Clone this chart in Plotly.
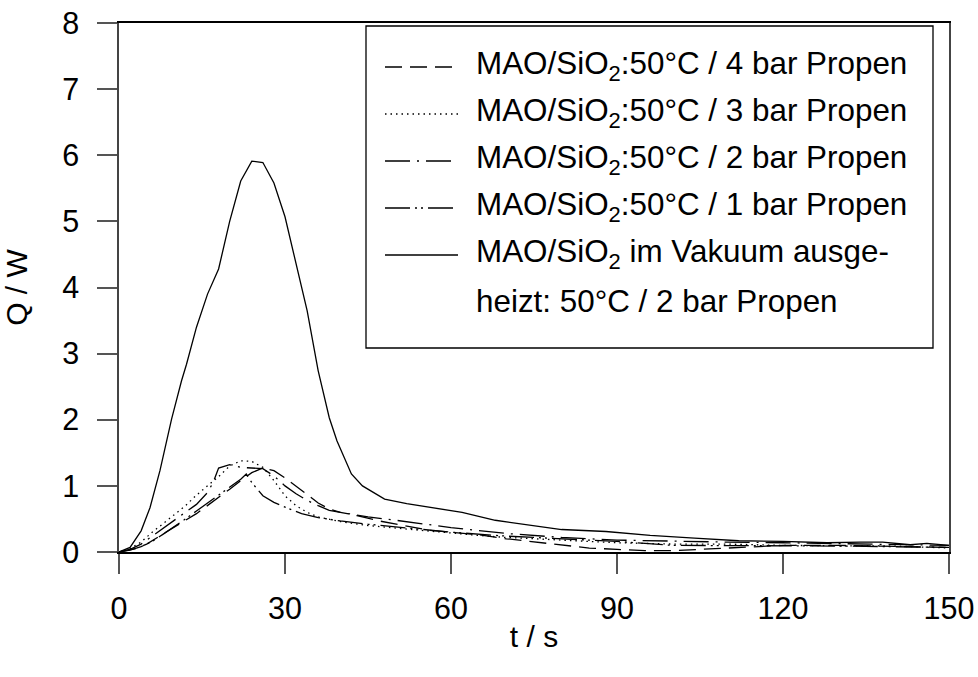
import plotly.graph_objects as go

# ---------------- data ----------------
t_vak = [0, 2, 4, 5.6, 7.4, 9.5, 11.3, 12.2, 14, 16, 18, 20, 22, 24, 26, 28, 30, 32, 34, 36, 38,
         39.4, 42, 44, 48, 52, 58, 62, 68, 74, 80, 88, 96, 104, 112, 120, 128, 134, 138, 143, 146, 150]
q_vak = [0, 0.07, 0.32, 0.67, 1.23, 2.01, 2.59, 2.84, 3.4, 3.9, 4.28, 5.0, 5.61, 5.91, 5.89, 5.58, 5.07,
         4.36, 3.65, 2.74, 2.03, 1.68, 1.18, 1.0, 0.80, 0.73, 0.65, 0.60, 0.48, 0.41, 0.34, 0.31, 0.25,
         0.21, 0.17, 0.16, 0.14, 0.15, 0.15, 0.11, 0.13, 0.10]

t_4bar = [0, 3, 5, 8, 10, 12, 14, 16, 18, 20, 22, 24, 26, 28, 30, 32, 34, 36, 38, 40, 43, 47, 52, 56,
          60, 65, 70, 75, 80, 85, 90, 95, 100, 105, 110, 120, 130, 140, 150]
q_4bar = [0, 0.05, 0.12, 0.28, 0.38, 0.48, 0.58, 0.70, 0.82, 0.95, 1.08, 1.20, 1.27, 1.23, 1.12, 1.0,
          0.87, 0.74, 0.65, 0.60, 0.55, 0.47, 0.39, 0.33, 0.30, 0.26, 0.20, 0.15, 0.10, 0.06, 0.04,
          0.02, 0.02, 0.04, 0.07, 0.10, 0.10, 0.08, 0.07]

t_3bar = [0, 2, 4, 6, 8, 10, 12, 14, 16, 18, 20, 22, 24, 26, 28, 30, 32, 34, 36, 40, 45, 50, 55, 60,
          65, 70, 80, 90, 100, 110, 120, 130, 140, 150]
q_3bar = [0, 0.05, 0.15, 0.30, 0.43, 0.56, 0.70, 0.86, 1.0, 1.14, 1.30, 1.38, 1.37, 1.28, 1.08, 0.85,
          0.70, 0.60, 0.53, 0.46, 0.40, 0.36, 0.33, 0.29, 0.25, 0.22, 0.18, 0.14, 0.12, 0.12, 0.10,
          0.10, 0.09, 0.06]

t_2bar = [0, 2, 4, 6, 8, 10, 12, 14, 16, 17, 18, 20, 22, 24, 26, 28, 30, 32, 34, 36, 38, 40, 45, 50,
          55, 60, 70, 80, 90, 100, 110, 120, 130, 140, 150]
q_2bar = [0, 0.04, 0.12, 0.24, 0.36, 0.48, 0.60, 0.72, 0.90, 1.05, 1.27, 1.32, 1.28, 1.27, 1.26, 1.15,
          1.0, 0.88, 0.78, 0.70, 0.63, 0.60, 0.53, 0.48, 0.42, 0.37, 0.28, 0.22, 0.18, 0.16, 0.15,
          0.14, 0.13, 0.12, 0.10]

t_1bar = [0, 2, 4, 6, 8, 10, 12, 14, 16, 18, 20, 22, 23, 24, 26, 28, 30, 33, 36, 40, 45, 50, 55, 60,
          70, 80, 90, 100, 110, 120, 130, 140, 150]
q_1bar = [0, 0.03, 0.08, 0.16, 0.27, 0.38, 0.50, 0.62, 0.74, 0.86, 0.98, 1.10, 1.18, 1.05, 0.85, 0.75,
          0.68, 0.58, 0.52, 0.47, 0.42, 0.38, 0.34, 0.30, 0.24, 0.20, 0.16, 0.10, 0.10, 0.09, 0.09,
          0.08, 0.07]

legend_texts = [
    "MAO/SiO<sub>2</sub>:50°C / 4 bar Propen",
    "MAO/SiO<sub>2</sub>:50°C / 3 bar Propen",
    "MAO/SiO<sub>2</sub>:50°C / 2 bar Propen",
    "MAO/SiO<sub>2</sub>:50°C / 1 bar Propen",
    "MAO/SiO<sub>2</sub> im Vakuum ausge-",
    "heizt: 50°C / 2 bar Propen",
]

x_ticks = [0, 30, 60, 90, 120, 150]
y_ticks = [0, 1, 2, 3, 4, 5, 6, 7, 8]

FONT = "Liberation Sans, Arial, sans-serif"
W, H = 978, 677
ML, MR, MT, MB = 119, W - 949, 23, H - 552
PW, PH = W - ML - MR, H - MT - MB


def px_x(p):
    return (p - ML) / PW


def px_y(p):
    return (H - MB - p) / PH


series = [
    (t_4bar, q_4bar, legend_texts[0], "17px,8px"),
    (t_3bar, q_3bar, legend_texts[1], "1.5px,4px"),
    (t_2bar, q_2bar, legend_texts[2], "25px,7px,2px,7px"),
    (t_1bar, q_1bar, legend_texts[3], "25px,5px,2px,4px,2px,5px"),
    (t_vak, q_vak, legend_texts[4], "solid"),
]

fig = go.Figure()
for t, q, nm, dash in series:
    fig.add_trace(go.Scatter(
        x=t, y=q, mode="lines", name=nm,
        line=dict(color="black", width=1.3, dash=dash),
        hoverinfo="skip", showlegend=False,
    ))

# ---- hand-built legend box (longer line samples than plotly's fixed symbols) ----
shapes = [dict(type="rect", xref="paper", yref="paper",
               x0=px_x(366), x1=px_x(933), y0=px_y(348), y1=px_y(26),
               line=dict(color="black", width=1.3), fillcolor="white", layer="above")]
annotations = []
row_y = [67, 114, 161, 208, 255, 302]
for i, txt in enumerate(legend_texts):
    if i < len(series):
        shapes.append(dict(type="line", xref="paper", yref="paper",
                           x0=px_x(385), x1=px_x(458), y0=px_y(row_y[i]), y1=px_y(row_y[i]),
                           line=dict(color="black", width=1.3, dash=series[i][3]),
                           layer="above"))
    annotations.append(dict(xref="paper", yref="paper", x=px_x(474), y=px_y(row_y[i] - 1),
                            xanchor="left", yanchor="middle", showarrow=False, text=txt,
                            font=dict(family=FONT, size=31.4, color="black")))

fig.update_layout(
    width=W, height=H,
    margin=dict(l=ML, r=MR, t=MT, b=MB, autoexpand=False),
    paper_bgcolor="white", plot_bgcolor="white",
    font=dict(family=FONT, size=30, color="black"),
    showlegend=False, hovermode=False,
    shapes=shapes, annotations=annotations,
)
fig.update_xaxes(
    range=[0, 150], tickvals=x_ticks, ticktext=[str(v) for v in x_ticks],
    ticks="outside", ticklen=20, tickwidth=1.5, tickcolor="#555",
    showline=True, linecolor="black", linewidth=1.5, mirror=True,
    showgrid=False, zeroline=False, automargin=False, ticklabelstandoff=9,
    ticklabeloverflow="allow",
    tickfont=dict(family=FONT, size=30.5),
    title=dict(text="t / s", font=dict(family=FONT, size=30), standoff=2),
)
fig.update_yaxes(
    range=[0, 8], tickvals=y_ticks, ticktext=[str(v) for v in y_ticks],
    ticks="outside", ticklen=20, tickwidth=1.5, tickcolor="#555",
    showline=True, linecolor="#444", linewidth=1.5, mirror=True,
    showgrid=False, zeroline=False, automargin=False, ticklabelstandoff=12,
    ticklabeloverflow="allow",
    tickfont=dict(family=FONT, size=30.5),
    title=dict(text="Q / W", font=dict(family=FONT, size=30), standoff=26),
)

# remove the browser's default 8px page margin so the figure fills the window exactly
fig.write_html("out.html", config={"displayModeBar": False},
               post_script="document.body.style.margin='0';")
